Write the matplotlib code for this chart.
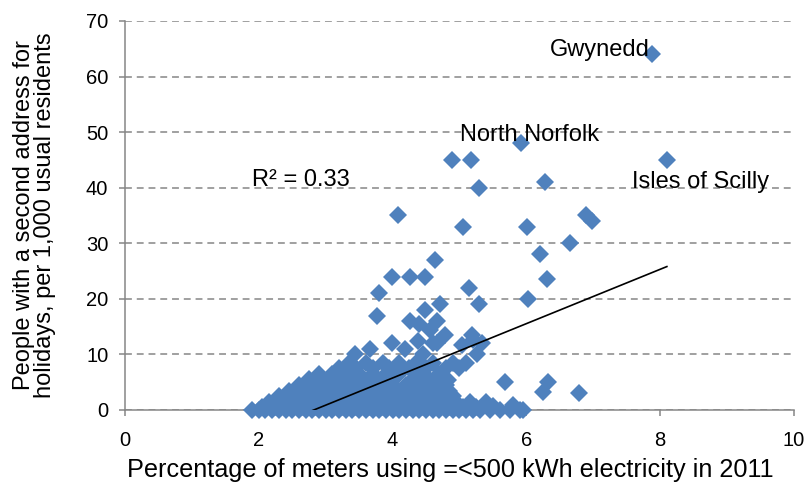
import numpy as np
import matplotlib.pyplot as plt

plt.rcParams['font.family'] = ['Liberation Sans', 'DejaVu Sans']

# points, grouped by rough height band
x_vals = [
    # y ~ 0
    1.9, 2.0, 2.1, 2.2, 2.3, 2.4, 2.5, 2.6, 2.7, 2.8, 2.9, 3.0, 3.1, 3.2, 3.3, 3.4,
    3.5, 3.6, 3.7, 3.8, 3.9, 4.0, 4.1, 4.2, 4.3, 4.4, 4.5, 4.6, 4.7, 4.8, 4.9, 5.0,
    5.1, 5.2, 5.3, 5.45, 5.6, 5.75, 5.9, 5.95,
    # y ~ 0.6
    2.05, 2.25, 2.45, 2.65, 2.85, 3.05, 3.25, 3.45, 3.65, 3.85, 4.05, 4.25, 4.45,
    4.65, 4.85, 5.05, 5.25, 5.5, 5.8,
    # y ~ 1.5
    2.15, 2.35, 2.55, 2.75, 2.95, 3.15, 3.35, 3.55, 3.75, 3.95, 4.15, 4.35, 4.55,
    4.75, 4.95, 5.15, 5.4,
    # y ~ 2.5
    2.3, 2.5, 2.7, 2.9, 3.1, 3.3, 3.5, 3.7, 3.9, 4.1, 4.3, 4.5, 4.7, 4.9,
    # y ~ 3.5
    2.45, 2.65, 2.85, 3.05, 3.25, 3.45, 3.65, 3.85, 4.05, 4.25, 4.45, 4.65, 4.85,
    # y ~ 4.5
    2.6, 2.8, 3.0, 3.2, 3.4, 3.6, 3.8, 4.0, 4.2, 4.4, 4.6, 4.8,
    # y ~ 5.5
    2.75, 2.95, 3.15, 3.35, 3.55, 3.75, 3.95, 4.3, 4.55, 4.75,
    # y ~ 6.5
    2.9, 3.1, 3.3, 3.5, 3.7, 3.9, 4.1, 4.4, 4.7,
    # y ~ 7.5
    3.2, 3.45, 3.7, 3.95, 4.25, 4.5, 4.8, 5.0,
    # y ~ 8.5
    3.35, 3.6, 3.85, 4.1, 4.35, 4.6, 4.9, 5.1,
    # scattered
    3.44, 3.66, 3.99, 4.19, 4.45, 4.66, 5.04, 5.2, 5.34, 5.26, 4.6, 4.56, 4.78,
    5.19, 4.38, 4.26, 4.4, 4.66, 4.48, 4.71, 3.77, 3.8, 5.29, 5.14, 4.63, 3.99,
    4.26, 4.48, 4.08, 4.89, 5.17, 5.29, 5.05, 5.92, 6.28, 6.01, 6.89, 6.98, 6.65,
    6.2, 6.31, 6.02, 5.68, 6.32, 6.25, 6.79, 4.83, 7.88, 8.1,
]
y_vals = [
    0, 0, 0, 0, 0, 0, 0, 0, 0, 0, 0, 0, 0, 0, 0, 0,
    0, 0, 0, 0, 0, 0, 0, 0, 0, 0, 0, 0, 0, 0, 0, 0,
    0, 0, 0, 0, 0, 0, 0, 0,
    0.6, 0.6, 0.6, 0.6, 0.6, 0.6, 0.6, 0.6, 0.6, 0.6, 0.6, 0.6, 0.6,
    0.6, 0.6, 0.6, 0.6, 0.8, 0.9,
    1.5, 1.5, 1.5, 1.5, 1.5, 1.5, 1.5, 1.5, 1.5, 1.5, 1.5, 1.5, 1.5,
    1.5, 1.5, 1.5, 1.5,
    2.5, 2.5, 2.5, 2.5, 2.5, 2.5, 2.5, 2.5, 2.5, 2.5, 2.5, 2.5, 2.5, 2.5,
    3.5, 3.5, 3.5, 3.5, 3.5, 3.5, 3.5, 3.5, 3.5, 3.5, 3.5, 3.5, 3.5,
    4.5, 4.5, 4.5, 4.5, 4.5, 4.5, 4.5, 4.5, 4.5, 4.5, 4.5, 4.5,
    5.5, 5.5, 5.5, 5.5, 5.5, 5.5, 5.5, 5.5, 5.5, 5.5,
    6.5, 6.5, 6.5, 6.5, 6.5, 6.5, 6.5, 6.5, 6.5,
    7.5, 7.5, 7.5, 7.5, 7.5, 7.5, 7.5, 7.5,
    8.5, 8.5, 8.5, 8.5, 8.5, 8.5, 8.5, 8.5,
    10, 11, 12, 11, 10, 12, 11.7, 12.6, 12, 10, 12, 14.4, 13.5,
    13.5, 12.5, 16, 15.5, 16, 18, 19, 17, 21, 19, 22, 27, 24,
    24, 24, 35, 45, 45, 40, 33, 48, 41, 33, 35, 34, 30,
    28, 23.5, 20, 5, 5, 3.2, 3, 5.4, 64, 45,
]

# trend line as shown on the chart (Excel linear fit)
trend_slope = 4.89
trend_intercept = -13.8
r2_text = "R² = 0.33"

labels = ["Gwynedd", "North Norfolk", "Isles of Scilly"]
label_pos = [(6.35, 64.7), (5.01, 49.4), (7.58, 41.0)]

x = np.array(x_vals)
y = np.array(y_vals)

fig = plt.figure(figsize=(8.05, 4.86), dpi=100)
ax = fig.add_axes([0.1553, 0.1564, 0.831, 0.8004])

grey = '#868686'
ax.set_axisbelow(True)
ax.yaxis.grid(True, color=grey, linewidth=1.1, linestyle=(0, (4.5, 3.2)))

ax.plot(x, y, linestyle='none', marker='D', markersize=9.5,
        color='#4F81BD', markeredgewidth=0, clip_on=False, zorder=3)

tx = np.array([x.min(), x.max()])
ax.plot(tx, trend_slope * tx + trend_intercept, color='black', linewidth=1.2, zorder=4)

ax.set_xlim(0, 10)
ax.set_ylim(0, 70)
ax.set_xticks(range(0, 11, 2))
ax.set_yticks(range(0, 71, 10))

for s in ['top', 'right']:
    ax.spines[s].set_visible(False)
for s in ['left', 'bottom']:
    ax.spines[s].set_color(grey)
    ax.spines[s].set_linewidth(1.1)
    ax.spines[s].set_zorder(2)

ax.tick_params(axis='both', colors=grey, labelcolor='black', labelsize=14.5,
               length=4, width=1.1, direction='out')
ax.tick_params(axis='x', pad=11)
ax.tick_params(axis='y', pad=8)

for txt, (lx, ly) in zip(labels, label_pos):
    ax.text(lx, ly, txt, fontsize=17, va='center', ha='left', zorder=5)
ax.text(1.9, 41.4, r2_text, fontsize=17, va='center', ha='left', zorder=5)

fig.text(0.559, 0.033, "Percentage of meters using =<500 kWh electricity in 2011",
         fontsize=18.2, ha='center', va='center')
fig.text(0.043, 0.5566, "People with a second address for\nholidays, per 1,000 usual residents",
         fontsize=17, ha='center', va='center', rotation=90, linespacing=0.95)

fig.savefig("out.png", dpi=100)
